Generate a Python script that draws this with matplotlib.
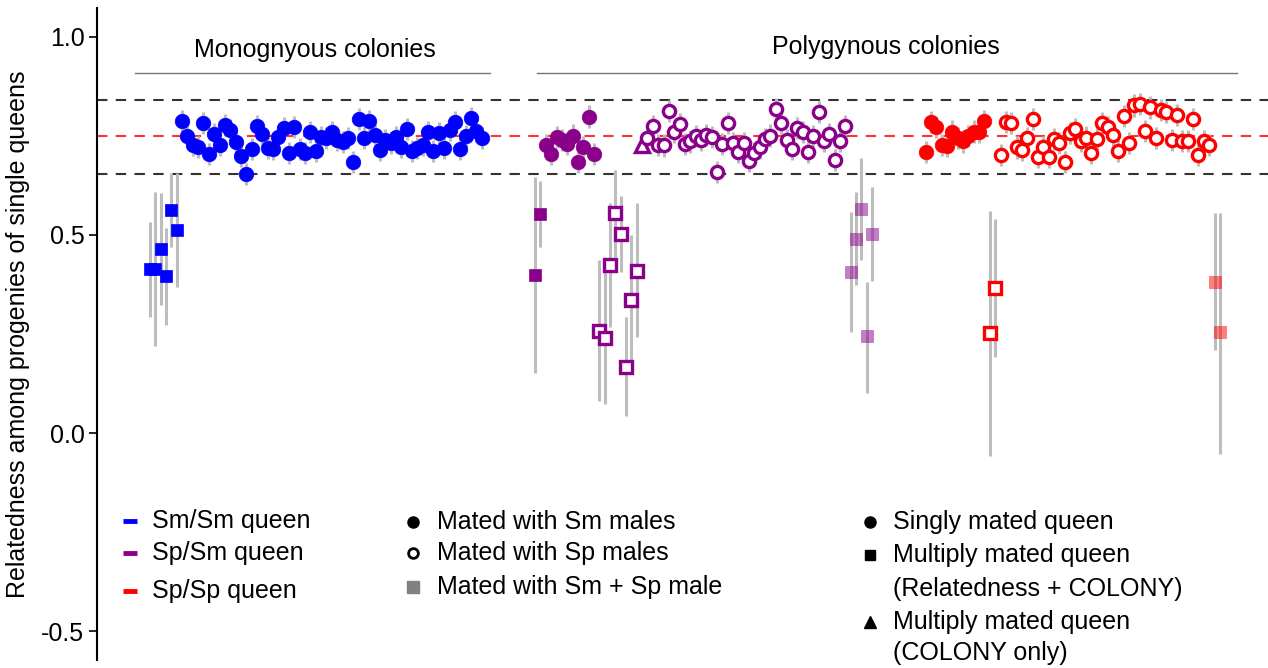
import matplotlib
matplotlib.use("Agg")
import matplotlib.pyplot as plt
import numpy as np

plt.rcParams['font.family'] = ['Liberation Sans', 'DejaVu Sans']

# ---------------- data ----------------
# Monogynous colonies, Sm/Sm queens (blue)
blue_sq_y = [0.413, 0.415, 0.465, 0.396, 0.562, 0.513]
blue_sq_lo = [0.294, 0.220, 0.323, 0.273, 0.470, 0.369]
blue_sq_hi = [0.534, 0.609, 0.607, 0.518, 0.657, 0.657]
blue_circ_y = [0.788, 0.750, 0.727, 0.722, 0.783, 0.705, 0.755, 0.727, 0.778, 0.765,
               0.735, 0.699, 0.654, 0.717, 0.775, 0.755, 0.720, 0.717, 0.747, 0.770,
               0.707, 0.773, 0.717, 0.707, 0.760, 0.712, 0.747, 0.745, 0.760, 0.740,
               0.735, 0.745, 0.684, 0.793, 0.745, 0.788, 0.753, 0.715, 0.740, 0.732,
               0.747, 0.722, 0.768, 0.712, 0.720, 0.727, 0.760, 0.712, 0.758, 0.720,
               0.765, 0.785, 0.717, 0.750, 0.795, 0.763, 0.745]

# Polygynous colonies, Sp/Sm queens (purple)
pur_fsq_y = [0.398, 0.553]
pur_fsq_lo = [0.151, 0.470]
pur_fsq_hi = [0.647, 0.635]
pur_fc_y = [0.726, 0.705, 0.747, 0.740, 0.730, 0.751, 0.684, 0.723, 0.799, 0.705]
pur_osq_y = [0.258, 0.239, 0.424, 0.555, 0.503, 0.167, 0.336, 0.410]
pur_osq_lo = [0.082, 0.073, 0.268, 0.445, 0.407, 0.043, 0.184, 0.243]
pur_osq_hi = [0.437, 0.407, 0.580, 0.664, 0.598, 0.294, 0.500, 0.580]
pur_tri_y = [0.727]
pur_oc_y = [0.746, 0.774, 0.727, 0.726, 0.814, 0.761, 0.780, 0.729, 0.736, 0.750,
            0.740, 0.753, 0.748, 0.660, 0.730, 0.782, 0.732, 0.709, 0.732, 0.687,
            0.706, 0.721, 0.742, 0.751, 0.818, 0.782, 0.740, 0.717, 0.771, 0.759,
            0.710, 0.749, 0.811, 0.737, 0.754, 0.689, 0.738, 0.776]
pur_msq_y = [0.407, 0.490, 0.566, 0.246, 0.502]
pur_msq_lo = [0.256, 0.374, 0.437, 0.100, 0.385]
pur_msq_hi = [0.559, 0.608, 0.694, 0.382, 0.620]

# Polygynous colonies, Sp/Sp queens (red)
red_fc_y = [0.710, 0.785, 0.772, 0.727, 0.725, 0.761, 0.744, 0.736, 0.749, 0.761,
            0.761, 0.788]
red_osq_y = [0.252, 0.367]
red_osq_lo = [-0.057, 0.193]
red_osq_hi = [0.561, 0.540]
red_oc_y = [0.702, 0.786, 0.782, 0.721, 0.715, 0.744, 0.792, 0.698, 0.721, 0.696,
            0.742, 0.733, 0.684, 0.758, 0.768, 0.738, 0.746, 0.708, 0.742, 0.782,
            0.772, 0.753, 0.713, 0.801, 0.733, 0.827, 0.830, 0.763, 0.822, 0.744,
            0.816, 0.811, 0.740, 0.803, 0.737, 0.737, 0.793, 0.702, 0.736, 0.727]
red_msq_y = [0.382, 0.254]
red_msq_lo = [0.210, -0.053]
red_msq_hi = [0.556, 0.555]

circle_ci = 0.028          # approximate half-width of the CI for circle points
ref_lines = [0.84, 0.75, 0.655]

legend_queen = ["Sm/Sm queen", "Sp/Sm queen", "Sp/Sp queen"]
legend_male = ["Mated with Sm males", "Mated with Sp males", "Mated with Sm + Sp male"]
legend_mating = ["Singly mated queen", "Multiply mated queen\n(Relatedness + COLONY)",
                 "Multiply mated queen\n(COLONY only)"]

# ---------------- styling ----------------
BLUE = "#0000FF"
PURPLE = "#8B008B"
RED = "#FF0000"
GREY = "#BDBDBD"
FS = 18.0

fig = plt.figure(figsize=(12.68, 6.68), dpi=100)
ax = fig.add_axes([97 / 1268, 8 / 668, 1 - 97 / 1268, 1 - 16 / 668])

group_gap = 10
pos = [0]


def nxt(n):
    start = pos[0]
    pos[0] += n
    return np.arange(start, start + n)


def err(x, lo, hi):
    ax.vlines(x, lo, hi, color=GREY, lw=2.2, zorder=1)


def pts(x, y, color, marker, filled=True, ms=10, alpha=1.0, mew=2.4):
    if filled:
        ax.plot(x, y, ls="none", marker=marker, ms=ms, mfc=color, mec=color,
                alpha=alpha, zorder=3, mew=0.5)
    else:
        ax.plot(x, y, ls="none", marker=marker, ms=ms, mfc="white", mec=color,
                mew=mew, zorder=3)


def circles(y, color, filled):
    x = nxt(len(y))
    y = np.array(y)
    err(x, y - circle_ci, y + circle_ci)
    pts(x, y, color, "o", filled, ms=10.5 if filled else 8.8)
    return x


def squares(y, lo, hi, color, filled=True, alpha=1.0):
    x = nxt(len(y))
    err(x, lo, hi)
    pts(x, y, color, "s", filled, ms=9 if filled else 8, alpha=alpha)
    return x


# Blue group
squares(blue_sq_y, blue_sq_lo, blue_sq_hi, BLUE)
circles(blue_circ_y, BLUE, True)

# Purple group
pos[0] += group_gap - 1
squares(pur_fsq_y, pur_fsq_lo, pur_fsq_hi, PURPLE)
circles(pur_fc_y, PURPLE, True)
squares(pur_osq_y, pur_osq_lo, pur_osq_hi, PURPLE, filled=False)
tx = nxt(len(pur_tri_y))
pts(tx, pur_tri_y, PURPLE, "^", filled=False, ms=10)
circles(pur_oc_y, PURPLE, False)
squares(pur_msq_y, pur_msq_lo, pur_msq_hi, PURPLE, alpha=0.5)

# Red group
pos[0] += group_gap - 1
circles(red_fc_y, RED, True)
squares(red_osq_y, red_osq_lo, red_osq_hi, RED, filled=False)
circles(red_oc_y, RED, False)
squares(red_msq_y, red_msq_lo, red_msq_hi, RED, alpha=0.5)

# Reference lines
for v, c in zip(ref_lines, ["#333333", "#FF3333", "#333333"]):
    ax.axhline(v, color=c, ls=(0, (5, 4)), lw=1.5, zorder=0.5)

# Axes
ax.set_xlim(-9.9, 209)
ax.set_ylim(-0.573, 1.073)
for s in ["top", "right", "bottom"]:
    ax.spines[s].set_visible(False)
ax.spines["left"].set_linewidth(1.5)
ax.set_xticks([])
ax.set_yticks([-0.5, 0.0, 0.5, 1.0])
ax.set_yticklabels(["-0.5", "0.0", "0.5", "1.0"])
ax.tick_params(axis="y", labelsize=FS, length=6, width=1.2, pad=3)
ax.set_ylabel("Relatedness among progenies of single queens", fontsize=FS, labelpad=8)

# Group headers
ax.plot([-2.8, 63.6], [0.909, 0.909], color="#777777", lw=1)
ax.text(30.8, 0.967, "Monognyous colonies", ha="center", va="center", fontsize=FS)
ax.plot([72.3, 203.2], [0.909, 0.909], color="#777777", lw=1)
ax.text(137.6, 0.975, "Polygynous colonies", ha="center", va="center", fontsize=FS)

# Legend 1: queen genotypes
for label, col, yy in zip(legend_queen, [BLUE, PURPLE, RED], [-0.222, -0.303, -0.399]):
    ax.plot([-5.0, -2.4], [yy, yy], color=col, lw=3.5, solid_capstyle="butt")
    ax.text(0.4, yy, label, ha="left", va="center", fontsize=FS)

# Legend 2: male types
ax.plot(49.2, -0.225, "o", ms=8, color="black")
ax.plot(49.2, -0.303, "o", ms=7, mfc="white", mec="black", mew=2)
ax.plot(49.2, -0.389, "s", ms=8.5, color="#808080")
for label, yy in zip(legend_male, [-0.225, -0.303, -0.389]):
    ax.text(53.6, yy, label, ha="left", va="center", fontsize=FS)

# Legend 3: mating
ax.plot(134.6, -0.225, "o", ms=8, color="black")
ax.plot(134.6, -0.308, "s", ms=7.5, color="black")
ax.plot(134.6, -0.477, "^", ms=8.5, color="black")
ax.text(138.9, -0.225, legend_mating[0], ha="left", va="center", fontsize=FS)
ax.text(138.9, -0.308, legend_mating[1].split("\n")[0], ha="left", va="center", fontsize=FS)
ax.text(138.9, -0.394, legend_mating[1].split("\n")[1], ha="left", va="center", fontsize=FS)
ax.text(138.9, -0.477, legend_mating[2].split("\n")[0], ha="left", va="center", fontsize=FS)
ax.text(138.9, -0.556, legend_mating[2].split("\n")[1], ha="left", va="center", fontsize=FS)

fig.savefig("out.png", dpi=100)
